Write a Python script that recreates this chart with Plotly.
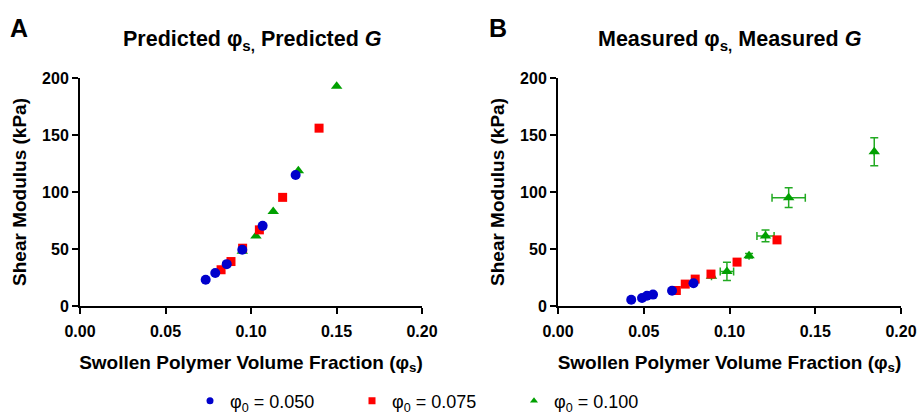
import plotly.graph_objects as go

# Panel A: predicted
a_blue_x = [0.0735, 0.0791, 0.0858, 0.0949, 0.1068, 0.1261]
a_blue_y = [23, 28.9, 36.7, 49.3, 70.3, 114.9]
a_red_x = [0.0825, 0.0883, 0.0951, 0.1049, 0.1185, 0.1398]
a_red_y = [31.8, 39, 50.7, 66.8, 95.3, 156]
a_green_x = [0.0949, 0.1029, 0.1130, 0.1277, 0.1501]
a_green_y = [48, 61.5, 82.8, 118.7, 192.7]

# Panel B: measured
b_blue_x = [0.0427, 0.0490, 0.0519, 0.0554, 0.0665, 0.0790]
b_blue_y = [5.5, 7, 9, 10, 13.4, 20]
b_red_x = [0.0690, 0.0742, 0.0800, 0.0892, 0.1044, 0.1277]
b_red_y = [13.6, 19.2, 23.6, 28, 38.5, 58]
b_green_x = [0.0895, 0.0985, 0.1114, 0.1210, 0.1345, 0.1844]
b_green_y = [26, 30.3, 44, 61.5, 95, 135.3]
b_green_yerr = [0, 8, 2, 5.2, 8.7, 12.3]
b_green_xerr = [0, 0.0039, 0, 0.005, 0.0097, 0]

legend_names = ["φ<sub>0</sub> = 0.050", "φ<sub>0</sub> = 0.075", "φ<sub>0</sub> = 0.100"]

BLUE = "#0000CC"
RED = "#FF0000"
GREEN = "#00A000"
EGREEN = "#22AA22"
FONT = "Arial, Liberation Sans, sans-serif"
W, H = 919, 418

fig = go.Figure()

def add(x, y, color, symbol, xa, ya, size=10, ex=None, ey=None):
    kw = {}
    if ey is not None:
        kw["error_y"] = dict(type="data", array=ey, color=EGREEN, thickness=1.5, width=4)
    if ex is not None:
        kw["error_x"] = dict(type="data", array=ex, color=EGREEN, thickness=1.5, width=4)
    fig.add_trace(go.Scatter(x=x, y=y, mode="markers", xaxis=xa, yaxis=ya,
                             marker=dict(color=color, symbol=symbol, size=size),
                             showlegend=False, cliponaxis=False, **kw))

add(a_green_x, a_green_y, GREEN, "triangle-up", "x", "y")
add(a_red_x, a_red_y, RED, "square", "x", "y", size=9)
add(a_blue_x, a_blue_y, BLUE, "circle", "x", "y")
add(b_green_x, b_green_y, GREEN, "triangle-up", "x2", "y2", ex=b_green_xerr, ey=b_green_yerr)
add(b_red_x, b_red_y, RED, "square", "x2", "y2", size=9)
add(b_blue_x, b_blue_y, BLUE, "circle", "x2", "y2")

# legend entries
for name, color, sym in zip(legend_names, [BLUE, RED, GREEN], ["circle", "square", "triangle-up"]):
    fig.add_trace(go.Scatter(x=[None], y=[None], mode="markers", name=name,
                             marker=dict(color=color, symbol=sym, size=7)))

xcommon = dict(range=[0, 0.2], tickvals=[0, 0.05, 0.1, 0.15, 0.2], tickformat=".2f",
               showline=True, linecolor="black", linewidth=2, ticks="outside",
               ticklen=6, tickwidth=2, tickcolor="black", showgrid=False, zeroline=False,
               tickfont=dict(family=FONT, size=16, color="black", weight="bold"),
               automargin=False, ticklabelstandoff=4,
               title=dict(text="Swollen Polymer Volume Fraction (φ<sub>s</sub>)",
                          font=dict(family=FONT, size=19, color="black", weight="bold"),
                          standoff=16))
ycommon = dict(range=[0, 200], tickvals=[0, 50, 100, 150, 200],
               showline=True, linecolor="black", linewidth=2, ticks="outside",
               ticklen=6, tickwidth=2, tickcolor="black", showgrid=False, zeroline=False,
               tickfont=dict(family=FONT, size=16, color="black", weight="bold"),
               automargin=False,
               title=dict(text="Shear Modulus (kPa)",
                          font=dict(family=FONT, size=19, color="black", weight="bold"),
                          standoff=10))

def px_ann(text, x, y, size):
    return dict(text=text, x=x / W, y=1 - y / H, xref="paper", yref="paper",
                xanchor="center", yanchor="middle", showarrow=False,
                font=dict(family=FONT, size=size, color="black"))

yd = [1 - 306 / H, 1 - 78 / H]
fig.update_layout(
    width=W, height=H,
    margin=dict(l=0, r=0, t=0, b=0, autoexpand=False),
    paper_bgcolor="white", plot_bgcolor="white",
    font=dict(family=FONT, color="black"),
    xaxis=dict(domain=[80 / W, 422 / W], anchor="y", **xcommon),
    yaxis=dict(domain=yd, anchor="x", **ycommon),
    xaxis2=dict(domain=[558 / W, 901 / W], anchor="y2", **xcommon),
    yaxis2=dict(domain=yd, anchor="x2", **ycommon),
    legend=dict(orientation="h", x=190 / W, xanchor="left", y=1 - 401 / H, yanchor="middle",
                font=dict(family=FONT, size=18, color="black"),
                entrywidth=117, itemwidth=30),
    annotations=[
        px_ann("<b>A</b>", 19, 28, 25),
        px_ann("<b>B</b>", 498, 28, 25),
        px_ann("<b>Predicted φ<sub>s,</sub> Predicted <i>G</i></b>", 252, 40, 21.5),
        px_ann("<b>Measured φ<sub>s,</sub> Measured <i>G</i></b>", 730, 40, 21.5),
    ],
)

fig.write_html("out.html", config={"displayModeBar": False},
               post_script="document.body.style.margin='0';")
